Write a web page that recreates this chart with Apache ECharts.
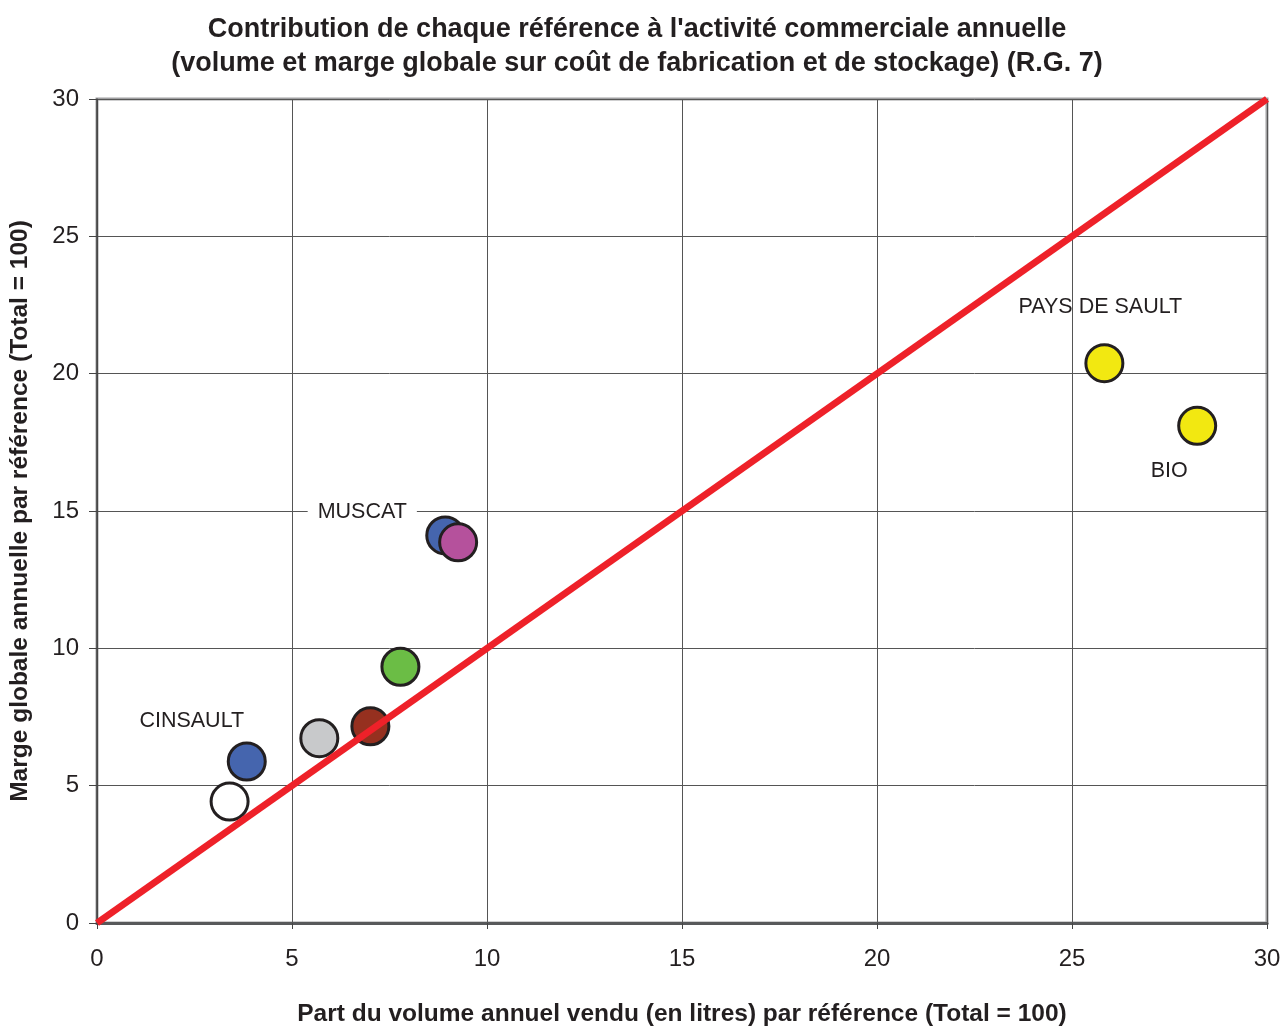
<!DOCTYPE html>
<html><head><meta charset="utf-8">
<script src="https://cdn.jsdelivr.net/npm/echarts@6/dist/echarts.min.js"></script>
<style>html,body{margin:0;padding:0;background:#fff;overflow:hidden}#c{width:1284px;height:1032px}</style>
</head><body><div id="c"></div>
<script>
const names = ['', 'CINSAULT', '', '', '', 'MUSCAT', '', 'PAYS DE SAULT', 'BIO'];
const volume = [3.40, 3.84, 5.70, 7.01, 7.78, 8.93, 9.26, 25.83, 28.21];
const marge = [4.42, 5.88, 6.73, 7.16, 9.33, 14.11, 13.86, 20.38, 18.10];
const colors = ['#ffffff', '#4565ae', '#c8c9cb', '#96301f', '#6bbd45', '#4565ae', '#b5519c', '#f2e811', '#f2e811'];
const labelOffsets = [null, [-55, -40], null, null, null, [-83, -23], null, [-4, -56], [-28, 45]];
const ticks = [0, 5, 10, 15, 20, 25, 30];
const diagonal = [[0, 0], [30, 30]];

const font = '"Liberation Sans", Arial, sans-serif';
const data = volume.map((v, i) => {
  const d = { value: [v, marge[i]], itemStyle: { color: colors[i] } };
  if (names[i]) {
    d.label = {
      show: true, formatter: names[i], position: 'inside', offset: labelOffsets[i],
      color: '#231f20', fontSize: 21.5, fontFamily: font,
      backgroundColor: names[i] === 'MUSCAT' ? '#fff' : 'transparent',
      padding: [2, 10]
    };
  }
  return d;
});

const el = document.getElementById('c');
const chart = echarts.init(el);
chart.setOption({
  animation: false,
  title: {
    text: "Contribution de chaque référence à l'activité commerciale annuelle\n(volume et marge globale sur coût de fabrication et de stockage) (R.G. 7)",
    left: 632, top: 8, textAlign: 'center',
    textStyle: { fontFamily: font, fontSize: 27, fontWeight: 'bold', color: '#231f20', lineHeight: 34 }
  },
  grid: { left: 94, right: 17, top: 99, bottom: 91, show: true, borderColor: '#a0a0a2', borderWidth: 3 },
  xAxis: {
    type: 'value', min: 0, max: 30, interval: 5,
    name: 'Part du volume annuel vendu (en litres) par référence (Total = 100)',
    nameLocation: 'middle', nameGap: 79,
    nameTextStyle: { fontFamily: font, fontSize: 24.5, fontWeight: 'bold', color: '#231f20' },
    axisLine: { show: true, onZero: false, lineStyle: { color: '#58595b', width: 3 } },
    axisTick: { show: true, length: 6, lineStyle: { color: '#444' } },
    axisLabel: { fontFamily: font, fontSize: 24, color: '#231f20', margin: 24 },
    splitLine: { show: true, lineStyle: { color: '#555', width: 1 } }
  },
  yAxis: {
    type: 'value', min: 0, max: 30, interval: 5,
    name: 'Marge globale annuelle par référence (Total = 100)',
    nameLocation: 'middle', nameGap: 64, nameRotate: 90,
    nameTextStyle: { fontFamily: font, fontSize: 24.5, fontWeight: 'bold', color: '#231f20' },
    axisLine: { show: true, lineStyle: { color: '#444', width: 1.5 } },
    axisTick: { show: true, length: 8, lineStyle: { color: '#444' } },
    axisLabel: { fontFamily: font, fontSize: 24, color: '#231f20', margin: 18 },
    splitLine: { show: true, lineStyle: { color: '#555', width: 1 } }
  },
  series: [
    {
      type: 'scatter', symbolSize: 37, z: 3,
      itemStyle: { borderColor: '#231f20', borderWidth: 3, opacity: 1 },
      data: data
    },
    {
      type: 'line', data: diagonal, symbol: 'none', z: 5,
      lineStyle: { color: '#ee2129', width: 7 }
    }
  ]
});
</script></body></html>
